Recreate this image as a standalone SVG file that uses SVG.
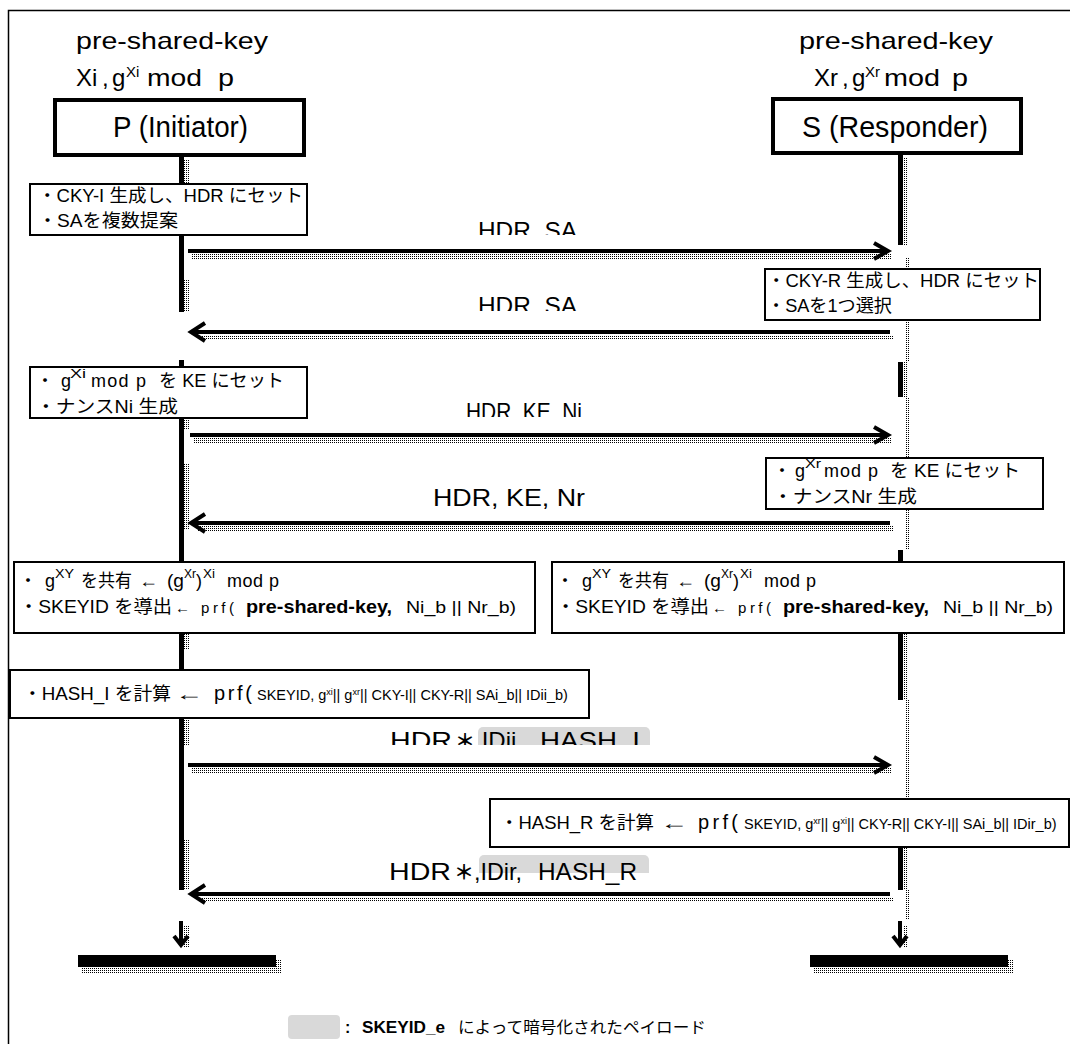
<svg xmlns="http://www.w3.org/2000/svg" width="1070" height="1044" viewBox="0 0 1070 1044">
<defs>
<style>
text{font-family:"Liberation Sans","Noto Sans CJK JP",sans-serif;fill:#000}
.h{font-size:24px}
.pb{font-size:29px}
.b{font-size:18px}
.sup{font-size:13px}
.sm{font-size:14.5px}
.tiny{font-size:9px}
.lb{font-size:24px}
.bold{font-weight:bold}
.box{fill:#fff;stroke:#000;stroke-width:2}
.hbox{fill:#fff;stroke:#000;stroke-width:4}
.ll{fill:#000}
.sh{fill:url(#dots)}
.ar{stroke:#000;stroke-width:4;fill:none}
.enc{fill:#d9d9d9}
</style>
<pattern id="dots" width="2" height="2" patternUnits="userSpaceOnUse"><rect width="1" height="1" fill="#000"/></pattern>
<clipPath id="c1"><rect x="300" y="200" width="400" height="35"/></clipPath>
<clipPath id="c2"><rect x="300" y="280" width="400" height="31"/></clipPath>
<clipPath id="c3"><rect x="300" y="385" width="400" height="32"/></clipPath>
<clipPath id="c5"><rect x="300" y="715" width="400" height="30"/></clipPath>
<clipPath id="c6"><rect x="470" y="850" width="190" height="23"/></clipPath>
</defs>

<rect x="8.5" y="10.5" width="1080" height="1060" fill="#fff" stroke="#000" stroke-width="1.5"/>

<g id="connectors">
  <!-- left lifeline -->
  <rect class="ll" x="179" y="157" width="5" height="27"/>
  <rect class="sh" x="184" y="160" width="5" height="24"/>
  <rect class="ll" x="179" y="235" width="5" height="77"/>
  <rect class="sh" x="184" y="280" width="5" height="32"/>
  <rect class="ll" x="179" y="360" width="5" height="7"/>
  <rect class="ll" x="179" y="418" width="5" height="144"/>
  <rect class="sh" x="184" y="418" width="5" height="12"/>
  <rect class="sh" x="184" y="463" width="5" height="67"/>
  <rect class="ll" x="179" y="633" width="5" height="37"/>
  <rect class="sh" x="184" y="633" width="5" height="17"/>
  <rect class="ll" x="179" y="718" width="5" height="172"/>
  <rect class="sh" x="184" y="718" width="5" height="27"/>
  <rect class="sh" x="184" y="840" width="5" height="50"/>
  <!-- right lifeline -->
  <rect class="ll" x="898" y="155" width="5" height="90"/>
  <rect class="sh" x="903" y="158" width="5" height="87"/>
  <rect class="sh" x="906" y="258" width="3" height="11"/>
  <rect class="sh" x="906" y="320" width="3" height="42"/>
  <rect class="ll" x="898" y="362" width="5" height="35"/>
  <rect class="sh" x="903" y="362" width="5" height="35"/>
  <rect class="sh" x="906" y="397" width="3" height="61"/>
  <rect class="sh" x="906" y="509" width="3" height="41"/>
  <rect class="ll" x="898" y="550" width="5" height="12"/>
  <rect class="ll" x="898" y="633" width="5" height="67"/>
  <rect class="sh" x="903" y="633" width="5" height="67"/>
  <rect class="sh" x="906" y="700" width="3" height="99"/>
  <rect class="ll" x="898" y="847" width="5" height="43"/>
  <rect class="sh" x="903" y="847" width="5" height="43"/>
  <rect class="sh" x="906" y="890" width="3" height="30"/>

  <!-- messages -->
  <rect class="sh" x="192" y="254" width="700" height="5"/>
  <line class="ar" x1="188" y1="251" x2="886" y2="251"/>
  <polyline class="ar" points="874,243 888,251 874,259"/>

  <rect class="sh" x="197" y="335" width="697" height="5"/>
  <line class="ar" x1="193" y1="332" x2="890" y2="332"/>
  <polyline class="ar" points="205,323 191,332 205,341"/>

  <rect class="sh" x="194" y="438" width="698" height="5"/>
  <line class="ar" x1="190" y1="435" x2="886" y2="435"/>
  <polyline class="ar" points="874,427 888,435 874,443"/>

  <rect class="sh" x="197" y="526" width="697" height="5"/>
  <line class="ar" x1="193" y1="523" x2="890" y2="523"/>
  <polyline class="ar" points="205,514 191,523 205,532"/>

  <rect class="sh" x="192" y="768" width="700" height="5"/>
  <line class="ar" x1="188" y1="765" x2="886" y2="765"/>
  <polyline class="ar" points="874,757 888,765 874,773"/>

  <rect class="sh" x="197" y="897" width="697" height="5"/>
  <line class="ar" x1="193" y1="894" x2="890" y2="894"/>
  <polyline class="ar" points="205,885 191,894 205,903"/>

  <!-- end arrows -->
  <rect class="sh" x="184" y="925" width="5" height="22"/>
  <line class="ar" x1="181" y1="921" x2="181" y2="944"/>
  <polyline class="ar" points="174,936 181,945 188,936"/>
  <rect class="sh" x="903" y="925" width="5" height="22"/>
  <line class="ar" x1="900" y1="921" x2="900" y2="944"/>
  <polyline class="ar" points="893,936 900,945 907,936"/>
</g>

<g id="end-bars">
  <rect class="sh" x="82" y="967" width="198" height="6"/>
  <rect class="sh" x="276" y="959" width="5" height="14"/>
  <rect class="ll" x="78" y="955" width="198" height="12"/>
  <rect class="sh" x="814" y="967" width="198" height="6"/>
  <rect class="sh" x="1008" y="959" width="5" height="14"/>
  <rect class="ll" x="810" y="955" width="198" height="12"/>
</g>

<g id="node-P">
  <text class="h" x="76" y="49" textLength="192" lengthAdjust="spacingAndGlyphs">pre-shared-key</text>
  <text class="h" x="76" y="86">Xi</text>
  <text class="h" x="102" y="86">,</text>
  <text class="h" x="112" y="86">g</text>
  <text x="126" y="77" font-size="15">Xi</text>
  <text class="h" x="147" y="86" textLength="55" lengthAdjust="spacingAndGlyphs">mod</text>
  <text class="h" x="218" y="86" textLength="16" lengthAdjust="spacingAndGlyphs">p</text>
  <rect class="hbox" x="55" y="100" width="249" height="55"/>
  <text class="pb" x="113" y="137" textLength="135" lengthAdjust="spacingAndGlyphs">P (Initiator)</text>
</g>

<g id="node-S">
  <text class="h" x="799" y="49" textLength="194" lengthAdjust="spacingAndGlyphs">pre-shared-key</text>
  <text class="h" x="814" y="86">Xr</text>
  <text class="h" x="842" y="86">,</text>
  <text class="h" x="852" y="86">g</text>
  <text x="865" y="77" font-size="15">Xr</text>
  <text class="h" x="884" y="86" textLength="56" lengthAdjust="spacingAndGlyphs">mod</text>
  <text class="h" x="952" y="86" textLength="16" lengthAdjust="spacingAndGlyphs">p</text>
  <rect class="hbox" x="773" y="99" width="248" height="54"/>
  <text class="pb" x="802" y="137" textLength="186" lengthAdjust="spacingAndGlyphs">S (Responder)</text>
</g>

<g id="note-p1">
  <rect class="box" x="30" y="184" width="277" height="51"/>
  <text class="b" x="38" y="202" textLength="265" lengthAdjust="spacingAndGlyphs">・CKY-I 生成し、HDR にセット</text>
  <text class="b" x="38" y="227" textLength="140" lengthAdjust="spacingAndGlyphs">・SAを複数提案</text>
</g>

<g id="note-s1">
  <rect class="box" x="765" y="269" width="275" height="51"/>
  <text class="b" x="767" y="287" textLength="272" lengthAdjust="spacingAndGlyphs">・CKY-R 生成し、HDR にセット</text>
  <text class="b" x="767" y="312" textLength="125" lengthAdjust="spacingAndGlyphs">・SAを1つ選択</text>
</g>

<g id="note-p2">
  <rect class="box" x="30" y="367" width="277" height="51"/>
  <text class="b" x="36" y="387">・</text>
  <text class="b" x="61" y="387">g</text>
  <text class="sup" x="70" y="378" textLength="16" lengthAdjust="spacingAndGlyphs">Xi</text>
  <text class="b" x="91" y="387" textLength="55" lengthAdjust="spacing">mod p</text>
  <text class="b" x="159" y="387" textLength="125" lengthAdjust="spacingAndGlyphs">を KE にセット</text>
  <text class="b" x="36" y="413" textLength="142" lengthAdjust="spacingAndGlyphs">・ナンスNi 生成</text>
</g>

<g id="note-s2">
  <rect class="box" x="766" y="458" width="277" height="51"/>
  <text class="b" x="773" y="477">・</text>
  <text class="b" x="795" y="477">g</text>
  <text class="sup" x="805" y="468" textLength="16" lengthAdjust="spacingAndGlyphs">Xr</text>
  <text class="b" x="824" y="477" textLength="54" lengthAdjust="spacing">mod p</text>
  <text class="b" x="890" y="477" textLength="130" lengthAdjust="spacingAndGlyphs">を KE にセット</text>
  <text class="b" x="773" y="503" textLength="144" lengthAdjust="spacingAndGlyphs">・ナンスNr 生成</text>
</g>

<g id="note-p3">
  <rect class="box" x="14" y="562" width="521" height="71"/>
  <text class="b" x="19" y="587">・</text>
  <text class="b" x="45" y="587">g</text>
  <text class="sup" x="55" y="578" textLength="19" lengthAdjust="spacingAndGlyphs">XY</text>
  <text class="b" x="81" y="587" textLength="51" lengthAdjust="spacingAndGlyphs">を共有</text>
  <text class="b" x="139" y="587" textLength="19" lengthAdjust="spacingAndGlyphs">←</text>
  <text class="b" x="167" y="587" textLength="17" lengthAdjust="spacingAndGlyphs">(g</text>
  <text class="sup" x="184" y="578" textLength="12" lengthAdjust="spacingAndGlyphs">Xr</text>
  <text class="b" x="196" y="587">)</text>
  <text class="sup" x="203" y="578" textLength="12" lengthAdjust="spacingAndGlyphs">Xi</text>
  <text class="b" x="227" y="587" textLength="52" lengthAdjust="spacing">mod p</text>
  <text class="b" x="19" y="613" textLength="153" lengthAdjust="spacingAndGlyphs">・SKEYID を導出</text>
  <text x="175" y="613" font-size="15" textLength="59" lengthAdjust="spacing">← prf(</text>
  <text class="b bold" x="246" y="613" textLength="146" lengthAdjust="spacingAndGlyphs">pre-shared-key,</text>
  <text x="406" y="613" font-size="16" textLength="110" lengthAdjust="spacingAndGlyphs">Ni_b || Nr_b)</text>
</g>

<g id="note-s3">
  <rect class="box" x="552" y="562" width="512" height="71"/>
  <text class="b" x="556" y="587">・</text>
  <text class="b" x="582" y="587">g</text>
  <text class="sup" x="592" y="578" textLength="19" lengthAdjust="spacingAndGlyphs">XY</text>
  <text class="b" x="618" y="587" textLength="51" lengthAdjust="spacingAndGlyphs">を共有</text>
  <text class="b" x="676" y="587" textLength="19" lengthAdjust="spacingAndGlyphs">←</text>
  <text class="b" x="704" y="587" textLength="17" lengthAdjust="spacingAndGlyphs">(g</text>
  <text class="sup" x="721" y="578" textLength="12" lengthAdjust="spacingAndGlyphs">Xr</text>
  <text class="b" x="733" y="587">)</text>
  <text class="sup" x="740" y="578" textLength="12" lengthAdjust="spacingAndGlyphs">Xi</text>
  <text class="b" x="764" y="587" textLength="52" lengthAdjust="spacing">mod p</text>
  <text class="b" x="556" y="613" textLength="153" lengthAdjust="spacingAndGlyphs">・SKEYID を導出</text>
  <text x="712" y="613" font-size="15" textLength="59" lengthAdjust="spacing">← prf(</text>
  <text class="b bold" x="783" y="613" textLength="146" lengthAdjust="spacingAndGlyphs">pre-shared-key,</text>
  <text x="943" y="613" font-size="16" textLength="110" lengthAdjust="spacingAndGlyphs">Ni_b || Nr_b)</text>
</g>

<g id="note-p4">
  <rect class="box" x="10" y="670" width="579" height="48"/>
  <text class="b" x="23" y="700" textLength="148" lengthAdjust="spacingAndGlyphs">・HASH_I を計算</text>
  <text class="b" x="175" y="700" textLength="28" lengthAdjust="spacingAndGlyphs">←</text>
  <text x="214" y="700" font-size="20" textLength="38" lengthAdjust="spacing">prf(</text>
  <text class="sm" x="257" y="700">SKEYID, g<tspan class="tiny" dy="-5">xi</tspan><tspan dy="5">|| g</tspan><tspan class="tiny" dy="-5">xr</tspan><tspan dy="5">|| CKY-I|| CKY-R|| SAi_b|| IDii_b)</tspan></text>
</g>

<g id="note-s4">
  <rect class="box" x="490" y="799" width="579" height="48"/>
  <text class="b" x="500" y="829" textLength="154" lengthAdjust="spacingAndGlyphs">・HASH_R を計算</text>
  <text class="b" x="660" y="829" textLength="28" lengthAdjust="spacingAndGlyphs">←</text>
  <text x="698" y="829" font-size="20" textLength="40" lengthAdjust="spacing">prf(</text>
  <text class="sm" x="744" y="829">SKEYID, g<tspan class="tiny" dy="-5">xr</tspan><tspan dy="5">|| g</tspan><tspan class="tiny" dy="-5">xi</tspan><tspan dy="5">|| CKY-R|| CKY-I|| SAi_b|| IDir_b)</tspan></text>
</g>

<g id="labels">
  <text class="lb" x="478" y="239" textLength="99" lengthAdjust="spacingAndGlyphs" clip-path="url(#c1)">HDR, SA</text>
  <text class="lb" x="478" y="314" textLength="99" lengthAdjust="spacingAndGlyphs" clip-path="url(#c2)">HDR, SA</text>
  <text class="lb" x="466" y="420" textLength="116" lengthAdjust="spacingAndGlyphs" clip-path="url(#c3)">HDR, KE, Ni</text>
  <text class="lb" x="433" y="506" textLength="152" lengthAdjust="spacingAndGlyphs">HDR, KE, Nr</text>
  <g clip-path="url(#c5)">
    <rect class="enc" x="478" y="727" width="172" height="30" rx="5"/>
    <text class="lb" x="390" y="749" textLength="62" lengthAdjust="spacingAndGlyphs">HDR</text>
    <text class="bold" x="455" y="749" font-size="20">＊</text>
    <text class="lb" x="475" y="749" textLength="48" lengthAdjust="spacingAndGlyphs">,IDii,</text>
    <text class="lb" x="540" y="749" textLength="100" lengthAdjust="spacingAndGlyphs">HASH_I</text>
  </g>
  <rect class="enc" x="479" y="855" width="170" height="30" rx="5" clip-path="url(#c6)"/>
  <text class="lb" x="389" y="880" textLength="62" lengthAdjust="spacingAndGlyphs">HDR</text>
  <text class="bold" x="454" y="880" font-size="20">＊</text>
  <text class="lb" x="474" y="880" textLength="48" lengthAdjust="spacingAndGlyphs">,IDir,</text>
  <text class="lb" x="538" y="880" textLength="99" lengthAdjust="spacingAndGlyphs">HASH_R</text>
</g>

<g id="legend">
  <rect class="enc" x="288" y="1015" width="52" height="24" rx="4"/>
  <text class="bold" x="345" y="1033" font-size="16">:</text>
  <text class="bold" x="362" y="1033" font-size="16" textLength="83" lengthAdjust="spacingAndGlyphs">SKEYID_e</text>
  <text x="458" y="1033" font-size="16" textLength="248" lengthAdjust="spacingAndGlyphs">によって暗号化されたペイロード</text>
</g>
</svg>
